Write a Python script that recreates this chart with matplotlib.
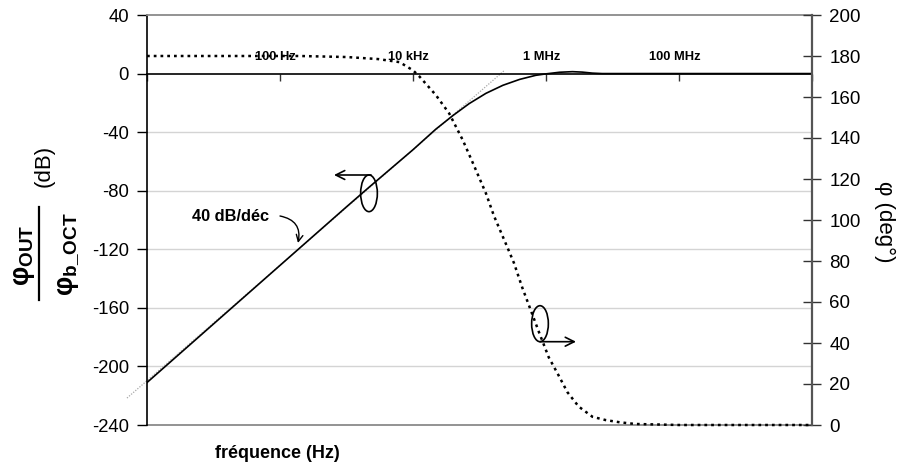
import matplotlib
matplotlib.use("Agg")
import matplotlib.pyplot as plt
from matplotlib.patches import Ellipse
from matplotlib.lines import Line2D

plt.rcParams['font.family'] = ['Liberation Sans', 'DejaVu Sans']
plt.rcParams['mathtext.fontset'] = 'custom'
plt.rcParams['mathtext.rm'] = 'Liberation Sans:bold'
plt.rcParams['mathtext.it'] = 'Liberation Sans:bold'
plt.rcParams['mathtext.bf'] = 'Liberation Sans:bold'

# ---- data ----
mag_freq = [1, 10, 100, 1e3, 2.2e3, 1e4, 2.2e4, 4e4, 7e4, 1.25e5, 2.25e5, 4e5, 7e5,
            1e6, 1.6e6, 2.5e6, 3.5e6, 5e6, 7e6, 1e7, 1e8, 1e9, 1e10]
mag_db = [-211, -171, -131, -91, -77.5, -52, -38, -28.6, -20.5, -13.5, -8, -4, -1.2,
          -0.2, 0.9, 1.3, 1.0, 0.3, 0, 0, 0, 0, 0]

phase_freq = [1, 10, 100, 200, 1e3, 3e3, 6.3e3, 1e4, 1.25e4, 2.2e4, 3.5e4, 5.6e4,
              7.9e4, 1.25e5, 1.65e5, 2.6e5, 3.3e5, 4.4e5, 5.9e5, 7.9e5, 1.1e6,
              1.5e6, 2.1e6, 3.1e6, 5e6, 7.9e6, 1.3e7, 2.2e7, 1e8, 1e9, 1e10]
phase_deg = [180, 180, 180, 180, 179.5, 178.5, 177, 173, 170, 161, 152, 139,
             128, 113, 102, 87, 79, 67, 56, 45, 33,
             25, 16, 9, 4, 2.4, 1.3, 0.5, 0, 0, 0]

asym_freq = [0.5, 2.35e5]
asym_db = [-221.6, 2.0]

xtick_freq = [1, 1e2, 1e4, 1e6, 1e8, 1e10]
xlabel_freq = [1e2, 1e4, 1e6, 1e8]
xlabel_text = ['100 Hz', '10 kHz', '1 MHz', '100 MHz']
db_ticks = [-240, -200, -160, -120, -80, -40, 0, 40]
deg_ticks = [0, 20, 40, 60, 80, 100, 120, 140, 160, 180, 200]

# ---- figure ----
W, H = 900, 472
fig = plt.figure(figsize=(W / 100, H / 100), dpi=100)
L, R, T, B = 147, 812, 15, 425
ax = fig.add_axes([L / W, 1 - B / H, (R - L) / W, (B - T) / H])
ax.set_xscale('log')
ax.set_xlim(1, 1e10)
ax.set_ylim(-240, 40)

for y in db_ticks[1:-1]:
    if y != 0:
        ax.axhline(y, color='#d4d4d4', lw=1.0, zorder=0)
ax.axhline(-240, color='#8a8a8a', lw=1.3, zorder=1, clip_on=False)

ax.spines['bottom'].set_position(('data', 0))
ax.spines['bottom'].set_color('black')
ax.spines['bottom'].set_linewidth(1.2)
ax.spines['top'].set_color('#8a8a8a')
ax.spines['top'].set_linewidth(1.3)
ax.spines['left'].set_color('black')
ax.spines['left'].set_linewidth(1.2)
ax.spines['right'].set_visible(False)

ax.set_xticks(xtick_freq)
ax.set_xticklabels([])
ax.xaxis.set_minor_locator(matplotlib.ticker.NullLocator())
ax.tick_params(axis='x', direction='out', length=5, width=1, color='#333333')
ax.set_yticks(db_ticks)
ax.set_yticklabels([str(v) for v in db_ticks])
ax.tick_params(axis='y', direction='out', length=7, width=1, labelsize=13.3, pad=6)

for f, t in zip(xlabel_freq, xlabel_text):
    ax.annotate(t, (f, 11.6), xytext=(-3, 0), textcoords='offset points',
                ha='center', va='center', fontsize=9.3, fontweight='bold')

ax.plot(asym_freq, asym_db, color='#a8a8a8', lw=0.9, ls=(0, (1, 1.2)), clip_on=False, zorder=2)
ax.plot(mag_freq, mag_db, color='black', lw=1.2, zorder=3)

ax2 = ax.twinx()
ax2.set_ylim(0, 200)
ax2.set_yticks(deg_ticks)
ax2.set_yticklabels([str(v) for v in deg_ticks])
for s in ['left', 'top', 'bottom']:
    ax2.spines[s].set_visible(False)
ax2.spines['right'].set_color('#555555')
ax2.spines['right'].set_linewidth(1.6)
ax2.tick_params(axis='y', direction='inout', length=13, width=1, labelsize=13.5, pad=6,
                color='#333333')
ax2.plot(phase_freq, phase_deg, color='black', lw=1.8, ls=(0, (1.1, 1.6)), zorder=3,
         clip_on=False)

# ---- annotations ----
def fp(x, y):
    return (x, H - y)

fig.add_artist(Ellipse((369 / W, 1 - 193.3 / H), 16.7 / W, 36.7 / H,
                       transform=fig.transFigure, fill=False, lw=1.2, color='black'))
fig.add_artist(Ellipse((540 / W, 1 - 323.7 / H), 16.7 / W, 36 / H,
                       transform=fig.transFigure, fill=False, lw=1.2, color='black'))
ax.annotate('', xy=fp(334, 175), xytext=fp(371, 175), xycoords='figure pixels',
            textcoords='figure pixels',
            arrowprops=dict(arrowstyle='->', lw=1.2, mutation_scale=16, color='black',
                            shrinkA=0, shrinkB=0))
ax.annotate('', xy=fp(576, 341.7), xytext=fp(540, 341.7), xycoords='figure pixels',
            textcoords='figure pixels',
            arrowprops=dict(arrowstyle='->', lw=1.2, mutation_scale=16, color='black',
                            shrinkA=0, shrinkB=0))
ax.annotate('', xy=fp(298, 243), xytext=fp(280, 216), xycoords='figure pixels',
            textcoords='figure pixels',
            arrowprops=dict(arrowstyle='->', lw=1.0, mutation_scale=12, color='black',
                            shrinkA=0, shrinkB=0, connectionstyle='arc3,rad=-0.5'))
fig.text(231 / W, 1 - 216.5 / H, '40 dB/déc', ha='center', va='center',
         fontsize=11.8, fontweight='bold')

# ---- axis titles ----
fig.text(277 / W, 1 - 453.5 / H, 'fréquence (Hz)', ha='center', va='center',
         fontsize=13, fontweight='bold')
fig.text(885 / W, 1 - 222 / H, 'φ (deg°)', ha='center', va='center',
         fontsize=16, rotation=270)
fig.text(24 / W, 1 - 255 / H, r'$\varphi_{\mathrm{OUT}}$',
         ha='center', va='center', fontsize=19.5, rotation=90)
fig.add_artist(Line2D([39 / W, 39 / W], [1 - 207 / H, 1 - 300 / H],
                      transform=fig.transFigure, color='black', lw=1.6))
fig.text(68 / W, 1 - 254.5 / H, r'$\varphi_{\mathrm{b\_OCT}}$',
         ha='center', va='center', fontsize=19.5, rotation=90)
fig.text(44 / W, 1 - 165.5 / H, '(dB)', ha='center', va='center',
         fontsize=16, rotation=90)

fig.savefig('out.png', dpi=100)
